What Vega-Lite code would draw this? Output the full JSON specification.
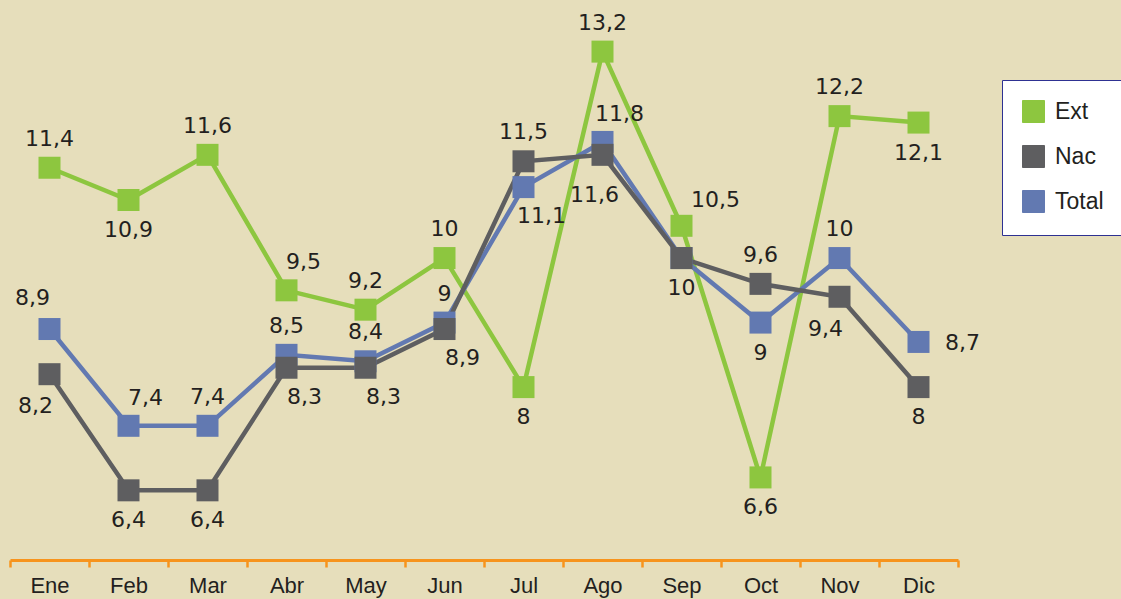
{
  "$schema": "https://vega.github.io/schema/vega-lite/v6.json",
  "width": 948,
  "height": 560,
  "autosize": {"type": "none"},
  "padding": {"left": 10, "top": 0, "right": 163, "bottom": 39},
  "background": "#E6DEBB",
  "config": {
    "view": {"stroke": null},
    "locale": {"number": {"decimal": ",", "thousands": ".", "grouping": [3], "currency": ["", " €"]}},
    "text": {"font": "DejaVu Sans", "fontSize": 22, "color": "#231F20", "align": "center", "baseline": "middle"}
  },
  "data": {
    "values": [
      {"mes": "Ene", "serie": "Ext", "valor": 11.4},
      {"mes": "Feb", "serie": "Ext", "valor": 10.9},
      {"mes": "Mar", "serie": "Ext", "valor": 11.6},
      {"mes": "Abr", "serie": "Ext", "valor": 9.5},
      {"mes": "May", "serie": "Ext", "valor": 9.2},
      {"mes": "Jun", "serie": "Ext", "valor": 10},
      {"mes": "Jul", "serie": "Ext", "valor": 8},
      {"mes": "Ago", "serie": "Ext", "valor": 13.2},
      {"mes": "Sep", "serie": "Ext", "valor": 10.5},
      {"mes": "Oct", "serie": "Ext", "valor": 6.6},
      {"mes": "Nov", "serie": "Ext", "valor": 12.2},
      {"mes": "Dic", "serie": "Ext", "valor": 12.1},
      {"mes": "Ene", "serie": "Total", "valor": 8.9},
      {"mes": "Feb", "serie": "Total", "valor": 7.4},
      {"mes": "Mar", "serie": "Total", "valor": 7.4},
      {"mes": "Abr", "serie": "Total", "valor": 8.5},
      {"mes": "May", "serie": "Total", "valor": 8.4},
      {"mes": "Jun", "serie": "Total", "valor": 9},
      {"mes": "Jul", "serie": "Total", "valor": 11.1},
      {"mes": "Ago", "serie": "Total", "valor": 11.8},
      {"mes": "Sep", "serie": "Total", "valor": 10},
      {"mes": "Oct", "serie": "Total", "valor": 9},
      {"mes": "Nov", "serie": "Total", "valor": 10},
      {"mes": "Dic", "serie": "Total", "valor": 8.7},
      {"mes": "Ene", "serie": "Nac", "valor": 8.2},
      {"mes": "Feb", "serie": "Nac", "valor": 6.4},
      {"mes": "Mar", "serie": "Nac", "valor": 6.4},
      {"mes": "Abr", "serie": "Nac", "valor": 8.3},
      {"mes": "May", "serie": "Nac", "valor": 8.3},
      {"mes": "Jun", "serie": "Nac", "valor": 8.9},
      {"mes": "Jul", "serie": "Nac", "valor": 11.5},
      {"mes": "Ago", "serie": "Nac", "valor": 11.6},
      {"mes": "Sep", "serie": "Nac", "valor": 10},
      {"mes": "Oct", "serie": "Nac", "valor": 9.6},
      {"mes": "Nov", "serie": "Nac", "valor": 9.4},
      {"mes": "Dic", "serie": "Nac", "valor": 8}
    ]
  },
  "encoding": {
    "x": {
      "field": "mes", "type": "nominal",
      "sort": ["Ene", "Feb", "Mar", "Abr", "May", "Jun", "Jul", "Ago", "Sep", "Oct", "Nov", "Dic"],
      "scale": {"type": "band", "paddingInner": 0, "paddingOuter": 0},
      "axis": {
        "title": null, "labelAngle": 0, "tickBand": "extent",
        "domainColor": "#F7941D", "domainWidth": 3, "tickColor": "#F7941D", "tickWidth": 2.5, "tickSize": 7,
        "labelFont": "Liberation Sans", "labelFontSize": 22, "labelColor": "#231F20", "labelPadding": 8, "grid": false
      }
    },
    "y": {"field": "valor", "type": "quantitative", "scale": {"domain": [5.32, 14], "nice": false, "zero": false}, "axis": null}
  },
  "layer": [
    {
      "mark": {"type": "line", "strokeWidth": 4.5},
      "encoding": {
        "color": {"field": "serie", "type": "nominal", "scale": {"domain": ["Ext", "Nac", "Total"], "range": ["#8DC63F", "#5E5E60", "#6279B1"]}}
      }
    },
    {
      "mark": {"type": "point", "shape": "square", "size": 484, "filled": true, "opacity": 1},
      "encoding": {
        "color": {
          "field": "serie", "type": "nominal",
          "scale": {"domain": ["Ext", "Nac", "Total"], "range": ["#8DC63F", "#5E5E60", "#6279B1"]},
          "legend": {
            "title": null, "orient": "none", "legendX": 992, "legendY": 80,
            "symbolType": "square", "symbolSize": 484, "symbolStrokeColor": "#333333", "symbolStrokeWidth": 1,
            "labelFont": "Liberation Sans", "labelFontSize": 23, "labelColor": "#231F20", "labelOffset": 10,
            "rowPadding": 18, "padding": 20, "fillColor": "#FFFFFF", "strokeColor": "#2E3192"
          }
        }
      }
    },
    {
      "transform": [{"filter": "(datum.serie=='Ext' && indexof(['Ene','Mar','May','Jun','Ago','Nov'], datum.mes)>=0) || (datum.serie=='Nac' && indexof(['Jul','Oct'], datum.mes)>=0) || (datum.serie=='Total' && indexof(['Mar','Abr','May','Jun','Nov'], datum.mes)>=0)"}],
      "mark": {"type": "text", "dy": -29},
      "encoding": {"text": {"field": "valor", "type": "quantitative", "format": ".3~g"}}
    },
    {
      "transform": [{"filter": "(datum.serie=='Total' && indexof(['Feb','Ago'], datum.mes)>=0) || (datum.serie=='Ext' && datum.mes=='Abr')"}],
      "mark": {"type": "text", "dy": -28, "dx": 17},
      "encoding": {"text": {"field": "valor", "type": "quantitative", "format": ".3~g"}}
    },
    {
      "transform": [{"filter": "datum.serie=='Ext' && datum.mes=='Sep'"}],
      "mark": {"type": "text", "dy": -26, "dx": 34},
      "encoding": {"text": {"field": "valor", "type": "quantitative", "format": ".3~g"}}
    },
    {
      "transform": [{"filter": "datum.serie=='Total' && datum.mes=='Ene'"}],
      "mark": {"type": "text", "dy": -31, "dx": -17},
      "encoding": {"text": {"field": "valor", "type": "quantitative", "format": ".3~g"}}
    },
    {
      "transform": [{"filter": "(datum.serie=='Ext' && indexof(['Feb','Jul','Oct','Dic'], datum.mes)>=0) || (datum.serie=='Nac' && indexof(['Feb','Mar','Sep','Dic'], datum.mes)>=0) || (datum.serie=='Total' && datum.mes=='Oct')"}],
      "mark": {"type": "text", "dy": 30},
      "encoding": {"text": {"field": "valor", "type": "quantitative", "format": ".3~g"}}
    },
    {
      "transform": [{"filter": "(datum.serie=='Nac' && indexof(['Abr','May','Jun'], datum.mes)>=0) || (datum.serie=='Total' && datum.mes=='Jul')"}],
      "mark": {"type": "text", "dy": 29, "dx": 18},
      "encoding": {"text": {"field": "valor", "type": "quantitative", "format": ".3~g"}}
    },
    {
      "transform": [{"filter": "datum.serie=='Nac' && indexof(['Ene','Nov'], datum.mes)>=0"}],
      "mark": {"type": "text", "dy": 32, "dx": -14},
      "encoding": {"text": {"field": "valor", "type": "quantitative", "format": ".3~g"}}
    },
    {
      "transform": [{"filter": "datum.serie=='Nac' && datum.mes=='Ago'"}],
      "mark": {"type": "text", "dy": 40, "dx": -8},
      "encoding": {"text": {"field": "valor", "type": "quantitative", "format": ".3~g"}}
    },
    {
      "transform": [{"filter": "datum.serie=='Total' && datum.mes=='Dic'"}],
      "mark": {"type": "text", "dy": 1, "dx": 44},
      "encoding": {"text": {"field": "valor", "type": "quantitative", "format": ".3~g"}}
    }
  ]
}
